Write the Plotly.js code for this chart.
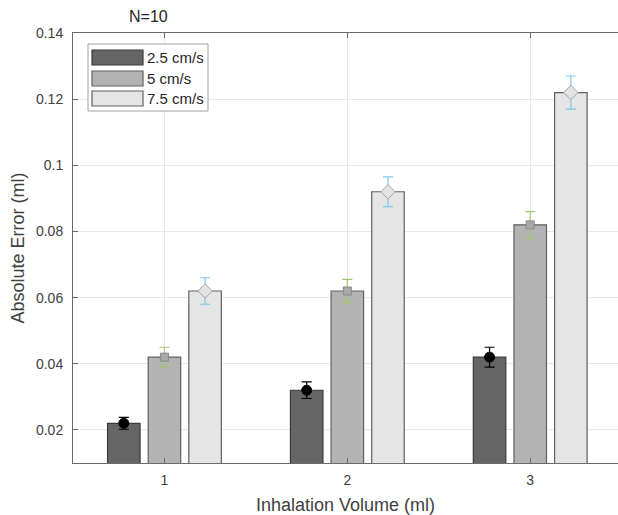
<!DOCTYPE html>
<html>
<head>
<meta charset="utf-8">
<script src="https://cdn.plot.ly/plotly-3.0.1.min.js"></script>
<style>
  html, body { margin: 0; padding: 0; overflow: hidden; background: #fff; }
  #chart { width: 618px; height: 515px; }
</style>
</head>
<body>
<div id="chart"></div>
<script>
// ---- data ----
const categories = [1, 2, 3];
const tickLabels = ['1', '2', '3'];
const seriesNames = ['2.5 cm/s', '5 cm/s', '7.5 cm/s'];
const values25 = [0.022, 0.032, 0.042];
const values5 = [0.042, 0.062, 0.082];
const values75 = [0.062, 0.092, 0.122];
const err25 = [0.0018, 0.0025, 0.003];
const err5 = [0.003, 0.0035, 0.004];
const err75 = [0.004, 0.0045, 0.005];
const yTickVals = [0.02, 0.04, 0.06, 0.08, 0.1, 0.12, 0.14];
const yTickText = ['0.02', '0.04', '0.06', '0.08', '0.1', '0.12', '0.14'];

// ---- styles ----
const FAMILY = 'Liberation Sans, Arial, Helvetica, sans-serif';
const barFill = ['#656565', '#b3b3b3', '#e5e5e5'];
const barEdge = ['#3a3a3a', '#606060', '#606060'];
const errColor = ['#000000', '#9fc96c', '#7cc7ee'];
const mSymbol = ['circle', 'square', 'diamond'];
const mFill = ['#000000', '#a9a9a9', '#e3e3e3'];
const mEdge = ['#000000', '#8a8a8a', '#a5a5a5'];
const mSize = [10, 8, 11];
const allValues = [values25, values5, values75];
const allErr = [err25, err5, err75];

const traces = [];
for (let i = 0; i < 3; i++) {
  traces.push({
    type: 'bar', x: categories, y: allValues[i], name: seriesNames[i],
    offsetgroup: String(i), showlegend: false, hoverinfo: 'skip',
    marker: { color: barFill[i], line: { color: barEdge[i], width: 1.2 } }
  });
}
for (let i = 0; i < 3; i++) {
  traces.push({
    type: 'scatter', mode: 'markers', x: categories, y: allValues[i],
    name: seriesNames[i] + ' mean', offsetgroup: String(i), showlegend: false,
    marker: { symbol: mSymbol[i], color: mFill[i], size: mSize[i],
              line: { color: mEdge[i], width: 1 } },
    error_y: { type: 'data', array: allErr[i], visible: true,
               color: errColor[i], thickness: 1.2, width: 5 }
  });
}

// ---- custom legend (MATLAB-style wide swatches) ----
const FW = 618, FH = 515;
const L = 73, T = 33, W = FW - L, H = 430;
const px = v => (v - L) / W;
const py = v => 1 - (v - T) / H;
const shapes = [{
  type: 'rect', xref: 'paper', yref: 'paper',
  x0: px(88), x1: px(208), y0: py(111), y1: py(44),
  fillcolor: '#ffffff', line: { color: '#a0a0a0', width: 1 }, layer: 'above'
}];
const annotations = [{
  text: 'N=10', xref: 'paper', yref: 'paper', x: px(148), y: 1,
  xanchor: 'center', yanchor: 'bottom', yshift: 6, showarrow: false,
  font: { family: FAMILY, size: 16, color: '#262626' }
}];
const rowTop = [50, 71, 91];
for (let i = 0; i < 3; i++) {
  shapes.push({
    type: 'rect', xref: 'paper', yref: 'paper',
    x0: px(92), x1: px(143), y0: py(rowTop[i] + 15), y1: py(rowTop[i]),
    fillcolor: barFill[i], line: { color: barEdge[i], width: 1.2 }, layer: 'above'
  });
  annotations.push({
    text: seriesNames[i], xref: 'paper', yref: 'paper',
    x: px(145), y: py(rowTop[i] + 7.5), xanchor: 'left', yanchor: 'middle',
    showarrow: false,
    font: { family: FAMILY, size: 15, color: '#262626' }
  });
}

const tickFont = { family: FAMILY, size: 14, color: '#404040' };
const titleFont = { family: FAMILY, size: 18, color: '#404040' };
const layout = {
  width: FW, height: FH,
  margin: { l: L, r: 0, t: T, b: FH - T - H },
  paper_bgcolor: '#ffffff', plot_bgcolor: '#ffffff',
  barmode: 'group', bargap: 1/3, bargroupgap: 0.2,
  scattermode: 'group', scattergap: 1/3,
  showlegend: false,
  font: tickFont,
  xaxis: {
    range: [0.5, 3.48], tickvals: categories, ticktext: tickLabels,
    ticks: 'inside', ticklen: 5, tickcolor: '#6a6a6a', tickwidth: 1,
    ticklabelstandoff: 4,
    showline: true, linecolor: '#6a6a6a', linewidth: 1, mirror: 'ticks',
    showgrid: true, gridcolor: '#e8e8e8', gridwidth: 1, zeroline: false,
    tickfont: tickFont,
    title: { text: 'Inhalation Volume (ml)', standoff: 11, font: titleFont }
  },
  yaxis: {
    range: [0.01, 0.14], tickvals: yTickVals, ticktext: yTickText,
    ticks: 'inside', ticklen: 5, tickcolor: '#6a6a6a', tickwidth: 1,
    ticklabelstandoff: 6,
    showline: true, linecolor: '#6a6a6a', linewidth: 1, mirror: false,
    showgrid: true, gridcolor: '#e8e8e8', gridwidth: 1, zeroline: false,
    tickfont: tickFont,
    title: { text: 'Absolute Error (ml)', standoff: 6, font: titleFont }
  },
  shapes: shapes,
  annotations: annotations
};

Plotly.newPlot('chart', traces, layout, { displayModeBar: false, staticPlot: true });
</script>
</body>
</html>
